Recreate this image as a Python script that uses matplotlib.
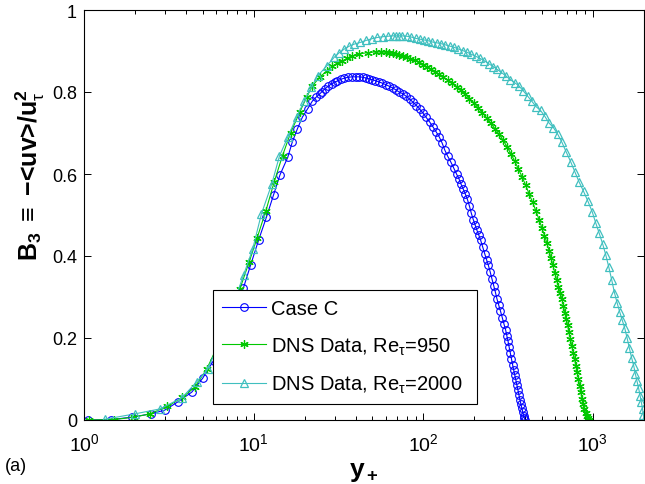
import matplotlib
matplotlib.use("Agg")
import matplotlib.pyplot as plt
from matplotlib.ticker import FixedLocator, FixedFormatter, LogLocator, NullFormatter

plt.rcParams["font.family"] = ["Liberation Sans", "DejaVu Sans"]
plt.rcParams["mathtext.fontset"] = "custom"
plt.rcParams["mathtext.rm"] = "Liberation Sans"
plt.rcParams["mathtext.it"] = "Liberation Sans"
plt.rcParams["mathtext.bf"] = "Liberation Sans:bold"

# values
case_c_yplus = [1.05, 1.45, 1.92, 2.48, 2.99, 3.57, 4.32, 5.01, 5.8, 6.7, 7.7, 8.7, 9.6, 10.7, 11.9,
                13.1, 14.3, 15.9, 16.9, 18.1, 19.4, 20.8, 22.2, 23.3, 24.5, 25.3, 26.2, 27.5, 28.8,
                30.0, 31.2, 32.7, 34.3, 36.2,
                38.2, 40, 42, 44, 46, 48, 50, 52, 54.5, 57, 60, 63, 66, 69, 72, 75.5, 79, 83, 87,
                91, 95, 99, 104, 109, 114, 119, 124, 129, 134, 139, 145, 151, 157, 162, 167, 172,
                177, 182, 187, 192, 197, 202, 207, 212, 218, 224, 230, 236, 242, 248, 254, 260,
                266, 272, 278, 285, 292, 299, 306, 311, 316, 321, 326, 331, 336, 341, 346, 351,
                356, 361, 366, 371, 376, 381, 386, 391, 395, 398]
case_c_b3 = [0.000, 0.001, 0.007, 0.015, 0.024, 0.044, 0.068, 0.102, 0.145, 0.200, 0.262, 0.322,
             0.378, 0.439, 0.495, 0.549, 0.598, 0.641, 0.678, 0.710, 0.739, 0.759, 0.778, 0.787,
             0.795, 0.801, 0.807, 0.814, 0.820, 0.824, 0.827, 0.831, 0.834, 0.836,
             0.837, 0.837, 0.837, 0.836, 0.834, 0.832, 0.830, 0.828, 0.825, 0.822, 0.818, 0.814,
             0.810, 0.805, 0.800, 0.796, 0.790, 0.783, 0.775, 0.767, 0.759, 0.750, 0.738, 0.727,
             0.715, 0.703, 0.691, 0.676, 0.658, 0.644, 0.630, 0.615, 0.600, 0.589, 0.575, 0.563,
             0.551, 0.538, 0.522, 0.504, 0.489, 0.476, 0.463, 0.452, 0.438, 0.422, 0.406, 0.391,
             0.377, 0.361, 0.344, 0.328, 0.312, 0.295, 0.281, 0.266, 0.250, 0.234, 0.219, 0.205,
             0.192, 0.177, 0.163, 0.149, 0.135, 0.122, 0.110, 0.098, 0.086, 0.074, 0.062, 0.050,
             0.039, 0.029, 0.019, 0.010, 0.004, 0.000]

dns950_yplus = [1.07, 1.5, 1.97, 2.45, 3.1, 3.8, 4.5, 5.3, 6.2, 7.2, 8.3, 9.4, 10.5, 11.8, 13.2,
                14.8, 16.5, 18.7, 20.5, 22.2, 24.5, 26.9, 29.1, 31.2, 33.4, 35.7, 38.2, 42, 47,
                52.9, 56, 60, 63, 66, 69, 72.2, 76, 80, 84, 89, 94.7, 100, 105, 111, 117, 124, 131,
                139, 148, 157, 166, 176, 187, 198, 210, 223, 236, 250, 265, 280, 296, 312, 329, 346,
                364, 383, 402, 421, 441, 461, 481, 500, 518, 535, 551, 566, 581, 596, 611, 626, 641,
                657, 670, 683, 696, 709, 722, 736, 750, 765, 780, 794, 808, 822, 836, 849, 861, 876,
                891, 906, 920, 935, 947]
dns950_b3 = [0.000, 0.001, 0.007, 0.015, 0.033, 0.055, 0.080, 0.125, 0.185, 0.250, 0.320, 0.385,
             0.445, 0.510, 0.580, 0.645, 0.700, 0.751, 0.787, 0.815, 0.836, 0.851, 0.863, 0.870,
             0.876, 0.882, 0.888, 0.893, 0.896,
             0.898, 0.898, 0.897, 0.896, 0.894, 0.892, 0.890, 0.888, 0.885, 0.881, 0.877, 0.873,
             0.867, 0.862, 0.856, 0.850, 0.843, 0.836, 0.829, 0.822, 0.813, 0.804, 0.795, 0.784,
             0.774, 0.762, 0.750, 0.737, 0.724, 0.710, 0.697, 0.682, 0.666, 0.649, 0.631, 0.612,
             0.592, 0.572, 0.551, 0.531, 0.510, 0.489, 0.469, 0.450, 0.432, 0.413, 0.395, 0.377,
             0.359, 0.342, 0.325, 0.310, 0.295, 0.278, 0.262, 0.247, 0.231, 0.215, 0.198, 0.181,
             0.164, 0.148, 0.132, 0.116, 0.100, 0.084, 0.068, 0.051, 0.038, 0.027, 0.017, 0.010,
             0.004, 0.000]

dns2000_yplus = [1.33, 2.0, 2.8, 3.77, 4.62, 5.36, 6.3, 7.4, 8.73, 9.87, 11.1, 12.8, 14.2, 15.9,
                 17.9, 19.9, 21.9, 23.8, 26.9, 29.9, 32, 34.3, 36.7, 39.3, 42.6, 46.2, 49.8, 53.6,
                 58, 62, 66, 69, 72, 75,
                 80, 85, 90, 95, 101, 107, 113, 120, 127, 135, 143, 152, 161, 171, 181, 192, 204,
                 216, 229, 243, 258, 273, 290, 307, 326, 345, 366, 388, 412, 437, 463, 491, 520,
                 552, 585, 620, 657, 697, 739, 783, 830, 880, 933, 990, 1040, 1090, 1140, 1190,
                 1240, 1290, 1340, 1390, 1440, 1490, 1540, 1590, 1640, 1690, 1740, 1780, 1820,
                 1860, 1900, 1930, 1960, 1985, 2000]
dns2000_b3 = [0.002, 0.015, 0.027, 0.054, 0.093, 0.124, 0.190, 0.270, 0.354, 0.417, 0.502, 0.576,
              0.644, 0.690, 0.739, 0.778, 0.812, 0.839, 0.863, 0.885, 0.896, 0.905, 0.912, 0.917,
              0.921, 0.926, 0.930, 0.933, 0.935, 0.936, 0.937, 0.937, 0.937, 0.937,
              0.936, 0.934, 0.931, 0.929, 0.927, 0.925, 0.922, 0.920, 0.918, 0.915, 0.912, 0.909,
              0.905, 0.901, 0.897, 0.892, 0.887, 0.882, 0.876, 0.869, 0.862, 0.855, 0.847, 0.839,
              0.830, 0.823, 0.815, 0.803, 0.790, 0.777, 0.764, 0.755, 0.741, 0.724, 0.713, 0.697,
              0.677, 0.653, 0.630, 0.605, 0.580, 0.558, 0.534, 0.508, 0.480, 0.455, 0.430, 0.403,
              0.373, 0.342, 0.310, 0.285, 0.263, 0.243, 0.224, 0.200, 0.175, 0.152, 0.132, 0.112,
              0.094, 0.077, 0.058, 0.043, 0.027, 0.012, 0.000]

series_labels = ["Case C", r"DNS Data, Re$_\tau$=950", r"DNS Data, Re$_\tau$=2000"]
ytick_values = [0, 0.2, 0.4, 0.6, 0.8, 1]
ytick_labels = ["0", "0.2", "0.4", "0.6", "0.8", "1"]

fig = plt.figure(figsize=(6.45, 4.85), dpi=100)
ax = fig.add_axes([84 / 645, 64 / 485, 560 / 645, 410 / 485])

ax.plot(case_c_yplus, case_c_b3, color="#0000ff", lw=0.8, marker="o", ms=5.5,
        mfc="none", mew=0.8, label=series_labels[0])
ax.plot(dns950_yplus, dns950_b3, color="#00c800", lw=0.8, marker=(6, 2, 0), ms=6,
        mew=0.9, label=series_labels[1])
ax.plot(dns2000_yplus, dns2000_b3, color="#40bfbf", lw=0.8, marker="^", ms=6,
        mfc="none", mew=0.9, label=series_labels[2])

ax.set_xscale("log")
ax.set_xlim(1, 2000)
ax.set_ylim(0, 1)
ax.yaxis.set_major_locator(FixedLocator(ytick_values))
ax.yaxis.set_major_formatter(FixedFormatter(ytick_labels))
ax.xaxis.set_major_locator(LogLocator(base=10, numticks=10))
ax.xaxis.set_minor_locator(LogLocator(base=10, subs=range(2, 10), numticks=20))
ax.xaxis.set_minor_formatter(NullFormatter())

ax.tick_params(which="both", direction="in", top=True, right=True, width=0.7)
ax.tick_params(axis="y", labelsize=13, pad=5)
ax.tick_params(axis="x", labelsize=14, pad=9)
ax.tick_params(which="major", length=5)
ax.tick_params(which="minor", length=3)
for sp in ax.spines.values():
    sp.set_linewidth(0.8)

ax.set_xlabel(r"$\mathbf{y_+}$", fontsize=19, labelpad=0)
ax.xaxis.set_label_coords(0.5, -0.095)
ax.set_ylabel("$\\mathbf{B_3}$ $\\equiv$ \u2212<uv>/u$_{\\tau}^{\\mathbf{2}}$",
              fontsize=18, fontweight="bold")
ax.yaxis.set_label_coords(-0.066, 0.60)
fig.text(5 / 645, 1 - 467 / 485, "(a)", fontsize=13, va="center", ha="left")

leg = ax.legend(loc="lower left", bbox_to_anchor=(0.230, 0.039, 0.472, 0.298), mode="expand",
                fontsize=14.5, frameon=True, fancybox=False, framealpha=1, edgecolor="black",
                handlelength=2.2, handletextpad=0.25, borderpad=0.45, labelspacing=0.85,
                borderaxespad=0)
leg.get_frame().set_linewidth(0.8)

fig.savefig("out.png", dpi=100)
